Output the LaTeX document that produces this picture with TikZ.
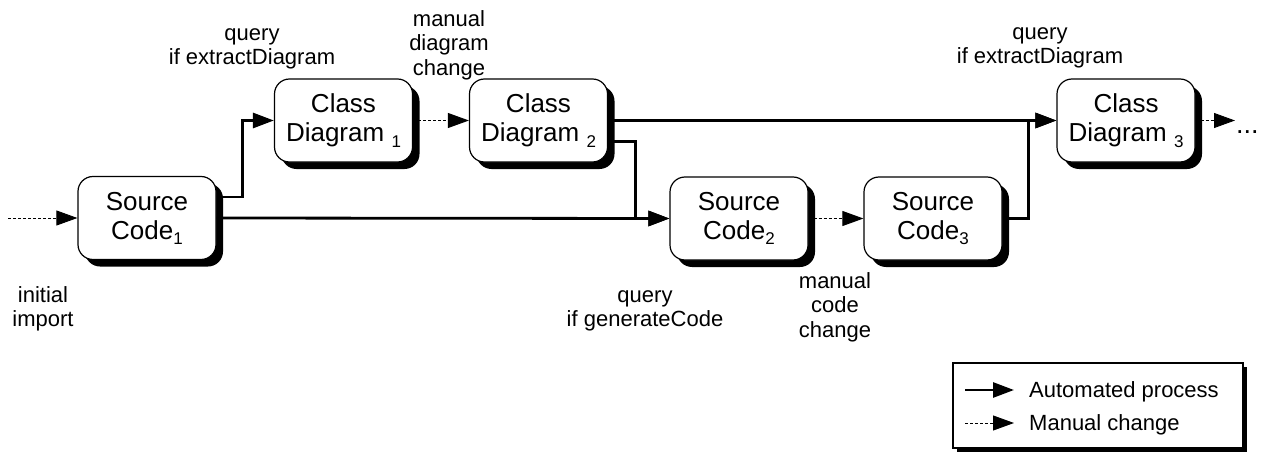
\documentclass[tikz,border=0pt]{standalone}
\usepackage{fontspec}
\setmainfont{Liberation Sans}
\usetikzlibrary{arrows.meta,shadows}
\newcommand\subnum[1]{\raisebox{-5pt}{\fontsize{17}{17}\selectfont #1}}
\newcommand\subnumd[1]{\raisebox{-6pt}{\fontsize{17}{17}\selectfont #1}}
\begin{document}
\begin{tikzpicture}[x=1pt,y=-1pt,
  box/.style={draw, line width=1.2pt, rounded corners=15pt, fill=white,
    minimum width=138pt, minimum height=83pt, inner sep=0pt, align=center,
    font=\fontsize{26}{29}\selectfont,
    drop shadow={opacity=1, fill=black, shadow xshift=7pt, shadow yshift=-7pt}},
  autoline/.style={line width=2.8pt, -{Triangle[length=21pt,width=15pt]}},
  manline/.style={line width=0.9pt, dash pattern=on 3pt off 2pt, -{Triangle[length=21pt,width=15pt]}},
  lab/.style={align=center, font=\fontsize{22}{24.5}\selectfont, inner sep=0pt},
  legtext/.style={anchor=base west, font=\fontsize{22}{24}\selectfont, inner sep=0pt}]
\useasboundingbox (0,0) rectangle (1261,452);

% boxes
\node[box] (sc1) at (147,218) {Source\\Code\subnum{1}};
\node[box] (cd1) at (343.5,120.5) {Class\\Diagram \subnumd{1}};
\node[box] (cd2) at (538.5,120.5) {Class\\Diagram \subnumd{2}};
\node[box] (sc2) at (739,218.5) {Source\\Code\subnum{2}};
\node[box] (sc3) at (933,218.5) {Source\\Code\subnum{3}};
\node[box] (cd3) at (1126,120.5) {Class\\Diagram \subnumd{3}};

% labels
\node[lab] (l1) at (252,49) {query\\if extractDiagram};
\node[lab] (l2) at (449,45) {manual\\diagram\\change};
\node[lab] (l3) at (1040,48) {query\\if extractDiagram};
\node[lab] (l4) at (43,309) {initial\\import};
\node[lab] (l5) at (645,311) {query\\if generateCode};
\node[lab] (l6) at (835,307) {manual\\code\\change};

% connectors
\coordinate (init) at (8,218);
\draw[manline] (init) -- (sc1.west);
\draw[autoline] ([yshift=21pt]sc1.east) -- ++(26,0) |- (cd1.west);
\draw[autoline] (sc1.east) -- (sc2.west);
\draw[manline] (cd1.east) -- (cd2.west);
\draw[autoline] (cd2.east) -- (cd3.west);
\draw[autoline] ([yshift=-21pt]cd2.east) -- ++(27,0) |- (sc2.west);
\draw[manline] (sc2.east) -- (sc3.west);
\draw[autoline] (sc3.east) -- ++(26,0) |- (cd3.west);
\coordinate (more) at (1235,120.5);
\draw[manline] (cd3.east) -- (more);
\node[anchor=base west, font=\fontsize{27}{27}\selectfont, inner sep=0pt] (dots) at (1236,133) {...};

% legend
\node[draw, line width=1.2pt, fill=white, minimum width=290pt, minimum height=85pt, inner sep=0pt,
  drop shadow={opacity=1, fill=black, shadow xshift=4pt, shadow yshift=-4pt}] (legend) at (1098,405.5) {};
\coordinate (a1) at (965,390);
\coordinate (a2) at (1014,390);
\coordinate (m1) at (965,423);
\coordinate (m2) at (1014,423);
\draw[autoline] (a1) -- (a2);
\draw[manline] (m1) -- (m2);
\node[legtext] (t1) at (1029,397) {Automated process};
\node[legtext] (t2) at (1029,430) {Manual change};
\end{tikzpicture}
\end{document}
